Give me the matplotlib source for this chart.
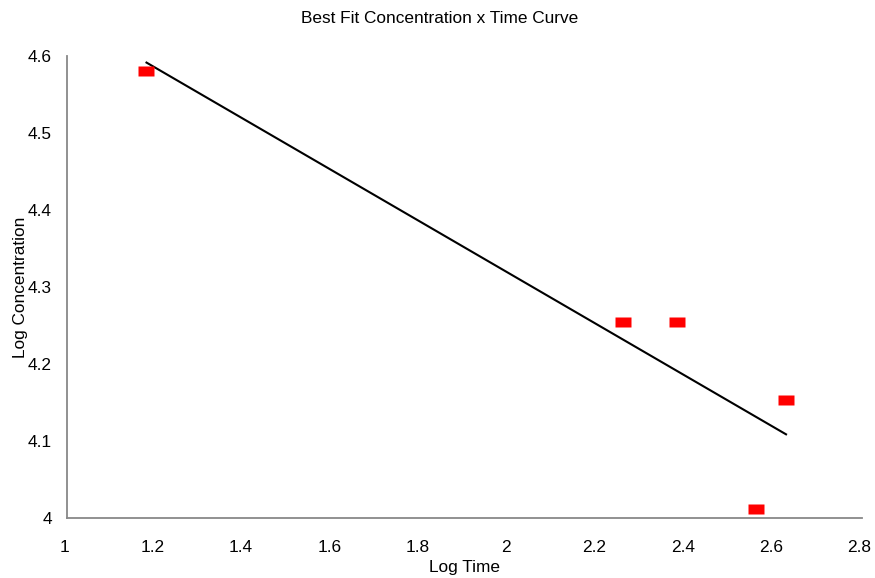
import numpy as np
import matplotlib
matplotlib.use("Agg")
import matplotlib.pyplot as plt
import matplotlib.transforms as mtransforms

log_time = [1.18, 2.258, 2.382, 2.56, 2.628]
log_conc = [4.5805, 4.2545, 4.2545, 4.0117, 4.153]
x_ticks = [1, 1.2, 1.4, 1.6, 1.8, 2, 2.2, 2.4, 2.6, 2.8]
x_tick_labels = ["1", "1.2", "1.4", "1.6", "1.8", "2", "2.2", "2.4", "2.6", "2.8"]
y_ticks = [4, 4.1, 4.2, 4.3, 4.4, 4.5, 4.6]
y_tick_labels = ["4", "4.1", "4.2", "4.3", "4.4", "4.5", "4.6"]

plt.rcParams['font.family'] = ['Liberation Sans', 'DejaVu Sans']
FS = 12.4

fig = plt.figure(figsize=(8.75, 5.78), dpi=100)
ax = fig.add_axes([67/875, 60/578, (862-67)/875, (518-56)/578])

# best fit line
slope, intercept = np.polyfit(log_time, log_conc, 1)
xs = np.array([min(log_time), max(log_time)])
ax.plot(xs, slope * xs + intercept, color='black', lw=1.5, zorder=2)

rect = [(-1, -0.62), (1, -0.62), (1, 0.62), (-1, 0.62), (-1, -0.62)]
ax.plot(log_time, log_conc, linestyle='none', marker=rect, markersize=11.5,
        markerfacecolor='#ff0000', markeredgecolor='none', zorder=3)

ax.set_xlim(1, 2.8)
ax.set_ylim(4, 4.6)
ax.set_xticks(x_ticks)
ax.set_xticklabels(x_tick_labels)
ax.set_yticks(y_ticks)
ax.set_yticklabels(y_tick_labels)
ax.tick_params(length=0, labelsize=FS, colors='black')
ax.tick_params(axis='x', pad=15.5)
ax.tick_params(axis='y', pad=10.8)
offset = mtransforms.ScaledTranslation(-2.5/100, 0, fig.dpi_scale_trans)
for lbl in ax.get_xticklabels():
    lbl.set_transform(lbl.get_transform() + offset)
for s in ['top', 'right']:
    ax.spines[s].set_visible(False)
for s in ['left', 'bottom']:
    ax.spines[s].set_color('#888888')
    ax.spines[s].set_linewidth(1.3)

ax.set_xlabel("Log Time", fontsize=FS, labelpad=4)
ax.set_ylabel("Log Concentration", fontsize=FS, labelpad=0)
fig.suptitle("Best Fit Concentration x Time Curve", fontsize=FS, x=440/875, y=1-11/578, va='top')

fig.savefig("out.png", dpi=100)
